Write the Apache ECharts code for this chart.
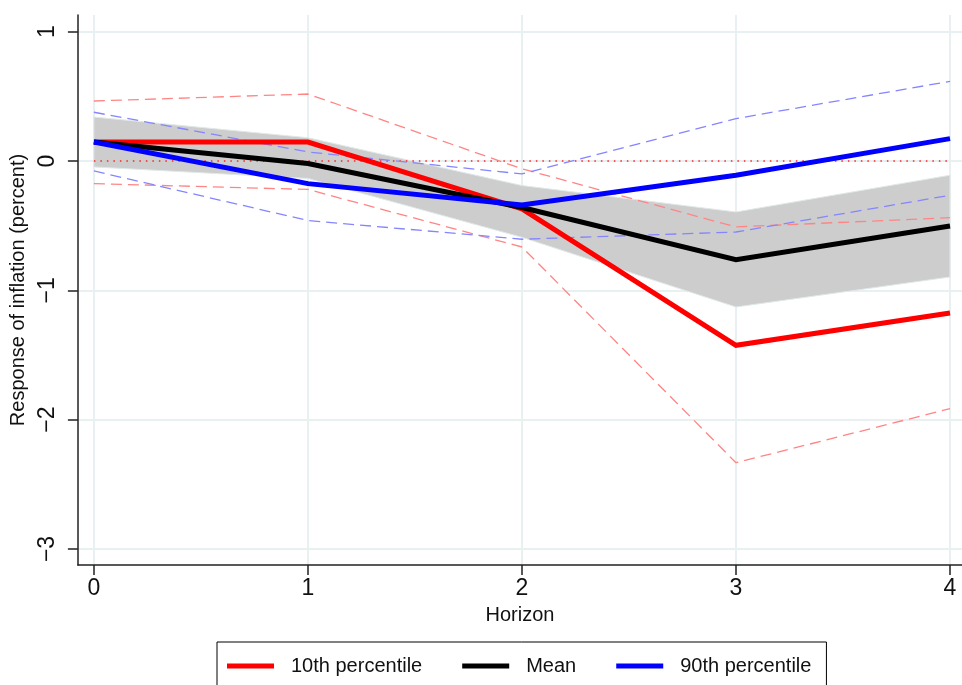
<!DOCTYPE html>
<html>
<head>
<meta charset="utf-8">
<script src="https://cdn.jsdelivr.net/npm/echarts@6/dist/echarts.min.js"></script>
<style>
html, body { margin:0; padding:0; background:#fff; }
#main { width:962px; height:685px; }
</style>
</head>
<body>
<div id="main"></div>
<script>
// horizon 0..4
var horizon = [0, 1, 2, 3, 4];
var yTicks = [-3, -2, -1, 0, 1];
// solid lines
var p10 = [0.147, 0.147, -0.37, -1.425, -1.175];
var mean = [0.147, -0.02, -0.36, -0.763, -0.503];
var p90 = [0.147, -0.175, -0.34, -0.11, 0.173];
// shaded band around the mean
var bandUpper = [0.34, 0.18, -0.19, -0.394, -0.11];
var bandLower = [-0.046, -0.135, -0.59, -1.129, -0.897];
// dashed bands of the percentiles
var p10Upper = [0.464, 0.518, -0.06, -0.51, -0.438];
var p10Lower = [-0.175, -0.22, -0.665, -2.333, -1.915];
var p90Upper = [0.377, 0.07, -0.10, 0.328, 0.616];
var p90Lower = [-0.077, -0.46, -0.605, -0.549, -0.265];
var zeroLine = [0, 0, 0, 0, 0];

var FONT = "'Liberation Sans', Arial, sans-serif";
var gridColor = '#e9f0f2';

function pairs(ys){
	var out = [];
	for(var i = 0; i < horizon.length; i++){
		out.push([horizon[i], ys[i]]);
	}
	return out;
}

function dashed(name, ys, color){
	return {
		name: name,
		type: 'line',
		data: pairs(ys),
		symbol: 'none',
		silent: true,
		lineStyle: { color: color, width: 1.3, type: [11, 6] },
		z: 3
	};
}

function solid(name, ys, color, z){
	return {
		name: name,
		type: 'line',
		data: pairs(ys),
		symbol: 'none',
		lineStyle: { color: color, width: 5, cap: 'butt', join: 'miter' },
		itemStyle: { color: color },
		z: z
	};
}

var chart = echarts.init(document.getElementById('main'));

var bandData = [];
for(var i = 0; i < horizon.length; i++){
	bandData.push([horizon[i], bandUpper[i], bandLower[i]]);
}

var option = {
	animation: false,
	textStyle: { fontFamily: FONT },
	grid: { left: 77, right: 0, top: 15, bottom: 120 },
	legend: {
		data: ['10th percentile', 'Mean', '90th percentile'],
		left: 217,
		top: 642,
		orient: 'horizontal',
		borderColor: '#000',
		borderWidth: 1,
		padding: [14, 15, 40, 10],
		itemWidth: 47,
		itemHeight: 5,
		itemGap: 40,
		icon: 'rect',
		textStyle: { fontFamily: FONT, fontSize: 20, color: '#111', padding: [0, 0, 0, 12] }
	},
	xAxis: {
		type: 'value',
		min: -0.0747,
		max: 4.056,
		name: 'Horizon',
		nameLocation: 'middle',
		nameGap: 40,
		nameTextStyle: { fontSize: 20, color: '#111', fontFamily: FONT },
		axisLine: { show: true, onZero: false, lineStyle: { color: '#222', width: 1.5 } },
		axisTick: { show: true, length: 10, customValues: horizon, lineStyle: { color: '#222', width: 1.5 } },
		axisLabel: { customValues: horizon, fontSize: 23, color: '#111', margin: 12, fontFamily: FONT },
		splitLine: { show: true, lineStyle: { color: gridColor, width: 2 } }
	},
	yAxis: {
		type: 'value',
		min: -3.124,
		max: 1.129,
		name: 'Response of inflation (percent)',
		nameLocation: 'middle',
		nameGap: 46,
		nameTextStyle: { fontSize: 20, color: '#111', fontFamily: FONT },
		axisLine: { show: true, onZero: false, lineStyle: { color: '#222', width: 1.5 } },
		axisTick: { show: true, length: 10, customValues: yTicks, lineStyle: { color: '#222', width: 1.5 } },
		axisLabel: {
			customValues: yTicks,
			rotate: 90,
			fontSize: 23,
			color: '#111',
			margin: 19,
			fontFamily: FONT,
			formatter: function(v){ return String(v).replace('-', '\u2212'); }
		},
		splitLine: { show: true, lineStyle: { color: gridColor, width: 2 } }
	},
	series: [
		{
			name: 'band',
			type: 'custom',
			silent: true,
			data: bandData,
			encode: { x: 0, y: [1, 2] },
			z: 1,
			renderItem: function(params, api){
				if(params.dataIndex !== 0) return null;
				var pts = [];
				for(var i = 0; i < horizon.length; i++){
					pts.push(api.coord([horizon[i], bandUpper[i]]));
				}
				for(var j = horizon.length - 1; j >= 0; j--){
					pts.push(api.coord([horizon[j], bandLower[j]]));
				}
				return {
					type: 'polygon',
					shape: { points: pts },
					style: { fill: '#cdcdcd', stroke: '#e0e8e9', lineWidth: 1 }
				};
			}
		},
		{
			name: 'zero',
			type: 'line',
			data: pairs(zeroLine),
			symbol: 'none',
			silent: true,
			lineStyle: { color: '#ff2020', width: 1.5, type: [1.5, 5] },
			z: 2
		},
		dashed('p10 upper', p10Upper, '#ff8585'),
		dashed('p10 lower', p10Lower, '#ff8585'),
		dashed('p90 upper', p90Upper, '#8585ff'),
		dashed('p90 lower', p90Lower, '#8585ff'),
		solid('10th percentile', p10, '#ff0000', 4),
		solid('Mean', mean, '#000000', 5),
		solid('90th percentile', p90, '#0000ff', 6)
	]
};
chart.setOption(option);
</script>
</body>
</html>
